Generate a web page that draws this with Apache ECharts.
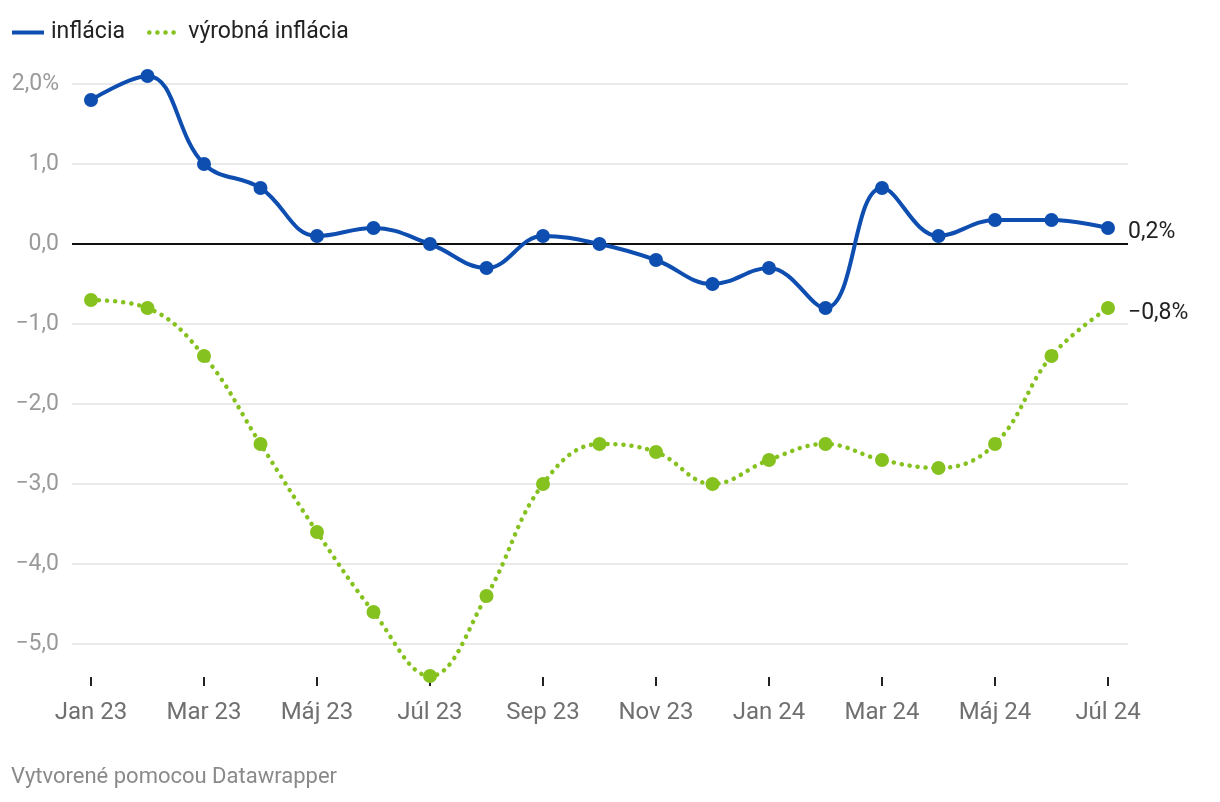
<!DOCTYPE html>
<html>
<head>
<meta charset="utf-8">
<script src="https://cdn.jsdelivr.net/npm/echarts@6/dist/echarts.min.js"></script>
<style>
  html, body { margin: 0; padding: 0; background: #fff; }
  #chart { width: 1220px; height: 802px; }
</style>
</head>
<body>
<div id="chart"></div>
<script>
// mesiace (os x)
var months = ['Jan 23','Feb 23','Mar 23','Apr 23','Máj 23','Jún 23','Júl 23','Aug 23','Sep 23','Okt 23','Nov 23','Dec 23',
              'Jan 24','Feb 24','Mar 24','Apr 24','Máj 24','Jún 24','Júl 24'];
var inflacia = [1.8, 2.1, 1.0, 0.7, 0.1, 0.2, 0.0, -0.3, 0.1, 0.0, -0.2, -0.5, -0.3, -0.8, 0.7, 0.1, 0.3, 0.3, 0.2];
var vyrobna = [-0.7, -0.8, -1.4, -2.5, -3.6, -4.6, -5.4, -4.4, -3.0, -2.5, -2.6, -3.0, -2.7, -2.5, -2.7, -2.8, -2.5, -1.4, -0.8];
var xTicks = [0, 2, 4, 6, 8, 10, 12, 14, 16, 18];
var yTicks = [-5, -4, -3, -2, -1, 0, 1, 2];

var blue = '#0e4eb0';
var green = '#86c21f';
var dots = [0.1, 8];

function fmt(v, dec) {
  var s = Math.abs(v).toFixed(dec).replace('.', ',');
  return (v < 0 ? '\u2212' : '') + s;
}
function pairs(arr) {
  var out = [];
  for (var i in arr) out.push([Number(i), arr[i]]);
  return out;
}

var myChart = echarts.init(document.getElementById('chart'));
var option = {
  animation: false,
  textStyle: { fontFamily: 'Roboto' },
  legend: {
    left: 10,
    top: 21,
    padding: 0,
    itemWidth: 32,
    itemHeight: 26,
    itemGap: 22,
    itemStyle: { opacity: 0 },
    textStyle: { fontSize: 23, color: '#222', fontFamily: 'Roboto', padding: [0, 0, 0, 2] },
    data: [
      { name: 'inflácia', lineStyle: { width: 4, color: blue } },
      { name: 'výrobná inflácia', lineStyle: { width: 4.5, color: green, type: dots, cap: 'round' } }
    ]
  },
  grid: { left: 72, right: 92, top: 68, bottom: 125 },
  xAxis: {
    type: 'value',
    min: -0.336,
    max: 18.354,
    axisLine: { show: false, onZero: false },
    splitLine: { show: false },
    axisTick: { show: true, customValues: xTicks, length: 9, lineStyle: { color: '#222', width: 2 } },
    axisLabel: {
      customValues: xTicks,
      margin: 24,
      fontSize: 24,
      color: '#707070',
      formatter: function (v) { return months[Math.round(v)]; }
    }
  },
  yAxis: {
    type: 'value',
    min: -5.4125,
    max: 2.2,
    axisLine: { show: false },
    axisTick: { show: false, customValues: yTicks },
    axisLabel: {
      customValues: yTicks,
      margin: 13,
      fontSize: 23,
      color: '#9a9a9a',
      formatter: function (v) { return v === 2 ? '2,0%' : fmt(v, 1); }
    },
    splitLine: { show: true, lineStyle: { color: '#e3e3e3', width: 1.5 } }
  },
  series: [
    {
      name: 'výrobná inflácia',
      type: 'line',
      data: pairs(vyrobna),
      smooth: 0.4,
      clip: false,
      symbol: 'circle',
      symbolSize: 14,
      itemStyle: { color: green },
      lineStyle: { color: green, width: 4.5, type: dots, cap: 'round' },
      endLabel: {
        show: true,
        distance: 20,
        offset: [0, 5],
        fontSize: 23,
        color: '#222',
        formatter: function () { return fmt(vyrobna[vyrobna.length - 1], 1) + '%'; }
      }
    },
    {
      name: 'inflácia',
      type: 'line',
      data: pairs(inflacia),
      smooth: 0.4,
      clip: false,
      symbol: 'circle',
      symbolSize: 14,
      itemStyle: { color: blue },
      lineStyle: { color: blue, width: 4 },
      endLabel: {
        show: true,
        distance: 20,
        offset: [0, 4],
        fontSize: 23,
        color: '#222',
        formatter: function () { return fmt(inflacia[inflacia.length - 1], 1) + '%'; }
      },
      markLine: {
        silent: true,
        symbol: 'none',
        label: { show: false },
        lineStyle: { color: '#111', width: 2, type: 'solid' },
        data: [{ yAxis: 0 }],
        z: 1
      }
    }
  ],
  graphic: [
    {
      type: 'text',
      left: 11,
      top: 766,
      style: { text: 'Vytvorené pomocou Datawrapper', fontSize: 22, fill: '#8a8a8a', fontFamily: 'Roboto' }
    }
  ]
};

myChart.setOption(option);
window.addEventListener('resize', function () {
  myChart.resize();
});
</script>
</body>
</html>
